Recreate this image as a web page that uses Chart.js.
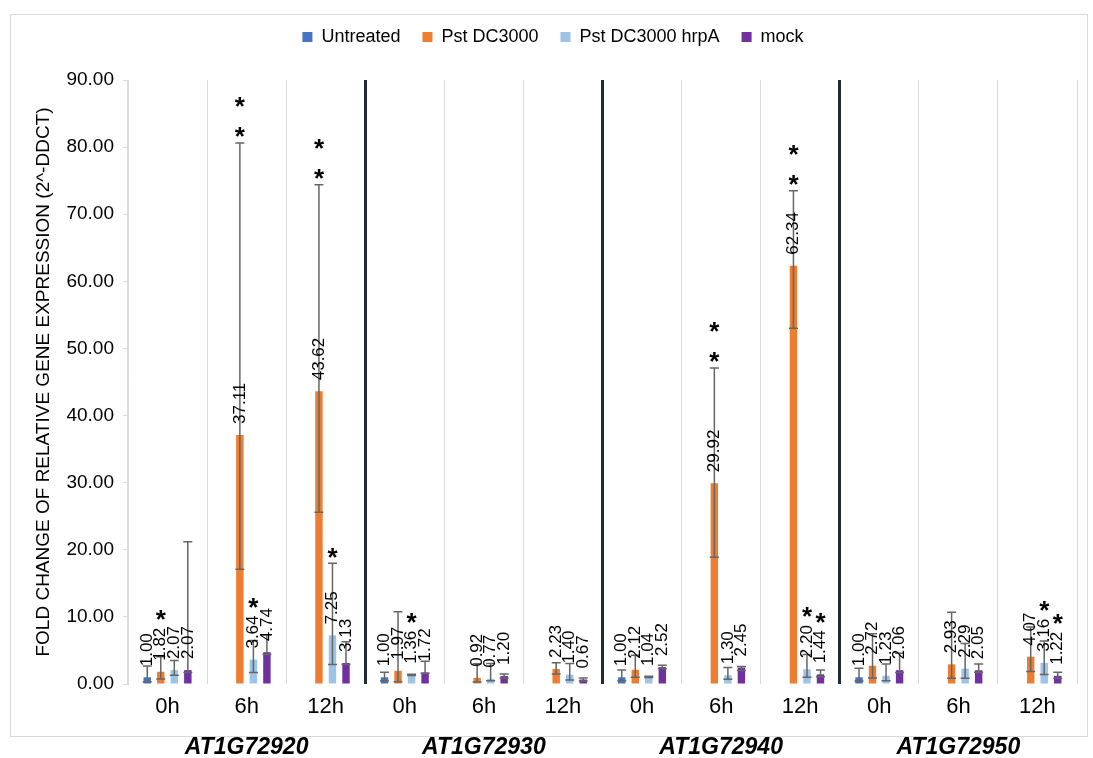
<!DOCTYPE html>
<html lang="en">
<head>
<meta charset="UTF-8">
<title>Fold change of relative gene expression</title>
<script src="https://cdn.jsdelivr.net/npm/chart.js"></script>
<style>
    body {
        margin: 0;
        background: #ffffff;
        font-family: "Liberation Sans", Arial, sans-serif;
    }
    .wrap {
        position: relative;
        width: 1093px;
        height: 758px;
    }
    .frame {
        position: absolute;
        left: 10px;
        top: 14px;
        width: 1078px;
        height: 723px;
        border: 1px solid #d9d9d9;
        box-sizing: border-box;
    }
    canvas {
        position: absolute;
        left: 0;
        top: 0;
    }
</style>
</head>
<body>
<div class="wrap">
    <div class="frame"></div>
    <canvas id="foldChart" width="1093" height="758"></canvas>
</div>
<script>
// time points, 3 per gene
const timepoints = ['0h', '6h', '12h', '0h', '6h', '12h', '0h', '6h', '12h', '0h', '6h', '12h'];
// gene names sit under the middle time point of each group
const geneLabels = ['', 'AT1G72920', '', '', 'AT1G72930', '', '', 'AT1G72940', '', '', 'AT1G72950', ''];

const untreated     = [1.00, null, null, 1.00, null, null, 1.00, null, null, 1.00, null, null];
const untreatedLow  = [0.35, null, null, 0.45, null, null, 0.50, null, null, 0.43, null, null];
const untreatedHigh = [2.67, null, null, 1.74, null, null, 2.08, null, null, 2.33, null, null];
const untreatedStars = [0, 0, 0, 0, 0, 0, 0, 0, 0, 0, 0, 0];

const pst      = [1.82, 37.11, 43.62, 1.97, 0.92, 2.23, 2.12, 29.92, 62.34, 2.72, 2.93, 4.07];
const pstLow   = [0.74, 17.1, 25.6, 0.35, 0.30, 1.48, 1.00, 18.9, 53.0, 0.90, 0.85, 1.85];
const pstHigh  = [4.06, 80.6, 74.4, 10.75, 3.00, 3.17, 4.30, 47.1, 73.5, 7.50, 10.7, 8.50];
const pstStars = [1, 2, 2, 0, 0, 0, 0, 2, 2, 0, 0, 0];

const hrpA      = [2.07, 3.64, 7.25, 1.36, 0.77, 1.40, 1.04, 1.30, 2.20, 1.23, 2.29, 3.16];
const hrpALow   = [1.30, 1.70, 2.90, 1.25, 0.50, 0.60, 0.95, 0.70, 1.00, 0.50, 0.85, 1.40];
const hrpAHigh  = [3.50, 6.50, 18.0, 1.45, 3.05, 3.07, 1.15, 2.47, 4.40, 2.97, 6.04, 6.40];
const hrpAStars = [0, 1, 1, 1, 0, 0, 0, 0, 1, 0, 0, 1];

const mock      = [2.07, 4.74, 3.13, 1.72, 1.20, 0.67, 2.52, 2.45, 1.44, 2.06, 2.05, 1.22];
const mockLow   = [1.70, 4.40, 2.90, 1.60, 0.90, 0.45, 2.30, 2.00, 1.09, 1.70, 1.74, 0.85];
const mockHigh  = [21.2, 7.30, 6.30, 3.40, 1.50, 0.90, 2.80, 2.60, 2.08, 4.60, 2.97, 1.74];
const mockStars = [0, 0, 0, 0, 0, 0, 0, 0, 1, 0, 0, 1];

Chart.defaults.font.family = '"Liberation Sans", Arial, sans-serif';
Chart.defaults.color = '#000000';

// extra room between the legend and the plot
const legendGap = {
    id: 'legendGap',
    beforeInit(chart) {
        const fit = chart.legend.fit;
        chart.legend.fit = function() {
            fit.bind(chart.legend)();
            this.height += 24;
        };
    }
};

// error bars, rotated value labels and significance stars
const annotatePlugin = {
    id: 'annotate',
    afterDatasetsDraw(chart) {
        const ctx = chart.ctx;
        const y = chart.scales.y;
        chart.data.datasets.forEach((ds, di) => {
            const meta = chart.getDatasetMeta(di);
            meta.data.forEach((bar, i) => {
                const v = ds.data[i];
                if (v === null) return;
                const yLo = y.getPixelForValue(ds.errLow[i]);
                const yHi = y.getPixelForValue(ds.errHigh[i]);
                ctx.save();
                ctx.strokeStyle = '#666666';
                ctx.lineWidth = 1.5;
                ctx.beginPath();
                ctx.moveTo(bar.x, yLo); ctx.lineTo(bar.x, yHi);
                ctx.moveTo(bar.x - 4.5, yLo); ctx.lineTo(bar.x + 4.5, yLo);
                ctx.moveTo(bar.x - 4.5, yHi); ctx.lineTo(bar.x + 4.5, yHi);
                ctx.stroke();
                ctx.restore();
            });
        });
        chart.data.datasets.forEach((ds, di) => {
            const meta = chart.getDatasetMeta(di);
            meta.data.forEach((bar, i) => {
                const v = ds.data[i];
                if (v === null) return;
                const text = v.toFixed(2);
                ctx.save();
                ctx.font = '17px "Liberation Sans", Arial, sans-serif';
                const w = ctx.measureText(text).width;
                ctx.translate(bar.x, bar.y - 11);
                ctx.rotate(-Math.PI / 2);
                ctx.fillStyle = '#000000';
                ctx.textAlign = 'left';
                ctx.textBaseline = 'middle';
                ctx.fillText(text, 0, 0);
                ctx.restore();

                const n = ds.stars[i];
                if (!n) return;
                const labelTop = bar.y - 11 - w;
                const errTop = y.getPixelForValue(ds.errHigh[i]);
                let sy = Math.min(labelTop - 14, errTop - 12);
                ctx.save();
                ctx.font = 'bold 26px "Liberation Sans", Arial, sans-serif';
                ctx.fillStyle = '#000000';
                ctx.textAlign = 'center';
                ctx.textBaseline = 'alphabetic';
                for (let k = 0; k < n; k++) {
                    ctx.fillText('*', bar.x, sy + 26 * 0.55);
                    sy -= 30;
                }
                ctx.restore();
            });
        });
    }
};

const separators = [3, 6, 9];

new Chart(document.getElementById('foldChart'), {
    type: 'bar',
    data: {
        labels: timepoints,
        datasets: [
            { label: 'Untreated', data: untreated, errLow: untreatedLow, errHigh: untreatedHigh, stars: untreatedStars, backgroundColor: '#4472C4' },
            { label: 'Pst DC3000', data: pst, errLow: pstLow, errHigh: pstHigh, stars: pstStars, backgroundColor: '#ED7D31' },
            { label: 'Pst DC3000 hrpA', data: hrpA, errLow: hrpALow, errHigh: hrpAHigh, stars: hrpAStars, backgroundColor: '#9DC3E6' },
            { label: 'mock', data: mock, errLow: mockLow, errHigh: mockHigh, stars: mockStars, backgroundColor: '#7030A0' }
        ]
    },
    options: {
        responsive: false,
        animation: false,
        categoryPercentage: 0.684,
        barPercentage: 0.55,
        layout: {
            padding: { left: 29, right: 16, top: 6, bottom: 0 }
        },
        plugins: {
            legend: {
                position: 'top',
                labels: {
                    boxWidth: 10,
                    boxHeight: 10,
                    padding: 22,
                    color: '#000000',
                    font: { size: 18 }
                }
            },
            tooltip: { enabled: false }
        },
        scales: {
            x: {
                position: 'bottom',
                offset: true,
                grid: {
                    offset: true,
                    drawTicks: false,
                    color: ctx => separators.includes(ctx.index) ? '#222a35' : '#d9d9d9',
                    lineWidth: ctx => separators.includes(ctx.index) ? 3 : 1
                },
                border: { display: false },
                ticks: {
                    padding: 10,
                    color: '#000000',
                    font: { size: 22 },
                    maxRotation: 0,
                    autoSkip: false
                },
                afterFit: scale => { scale.height = 36; }
            },
            x2: {
                type: 'category',
                position: 'bottom',
                labels: geneLabels,
                offset: true,
                grid: { display: false },
                border: { display: false },
                ticks: {
                    padding: 6,
                    color: '#000000',
                    font: { size: 23, weight: 'bold', style: 'italic' },
                    maxRotation: 0,
                    autoSkip: false
                },
                afterFit: scale => { scale.height = 38; }
            },
            y: {
                min: 0,
                max: 90,
                ticks: {
                    stepSize: 10,
                    padding: 9,
                    color: '#000000',
                    font: { size: 19 },
                    callback: v => v.toFixed(2)
                },
                grid: {
                    drawOnChartArea: false,
                    drawTicks: true,
                    tickLength: 5,
                    color: '#d9d9d9'
                },
                border: { display: true, color: '#d9d9d9' },
                title: {
                    display: true,
                    text: 'FOLD CHANGE OF RELATIVE GENE EXPRESSION (2^-DDCT)',
                    color: '#000000',
                    font: { size: 19 },
                    padding: { top: 3, bottom: 4 }
                },
                afterFit: scale => { scale.width = 99; }
            }
        }
    },
    plugins: [legendGap, annotatePlugin]
});
</script>
</body>
</html>
